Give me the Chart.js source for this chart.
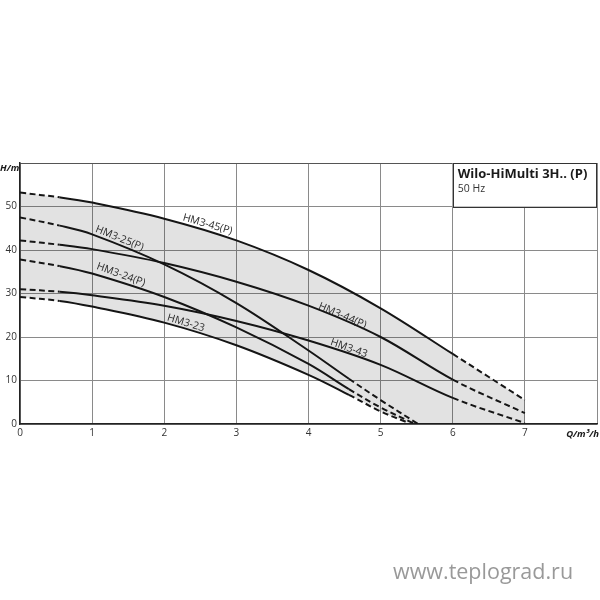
<!DOCTYPE html>
<html><head><meta charset="utf-8">
<script src="https://cdn.jsdelivr.net/npm/chart.js@4/dist/chart.umd.min.js"></script>
<style>
html,body{margin:0;padding:0;background:#fff;}
#wrap{position:relative;width:600px;height:600px;}
</style></head><body>
<div id="wrap"><canvas id="c" width="600" height="600"></canvas></div>
<script>
// ---- data (Q in m³/h, H in m) ----
const q45 = [0, 0.55, 1, 2, 3, 4, 5, 6, 7];
const h45 = [53.2, 52.1, 50.9, 47.2, 42.2, 35.4, 26.6, 16.1, 5.5];
const q44 = [0, 0.55, 1, 2, 3, 4, 5, 6, 7];
const h44 = [42.2, 41.2, 40.2, 37.0, 32.7, 27.2, 20.0, 10.2, 2.5];
const q43 = [0, 0.55, 1, 2, 3, 4, 5, 6, 7];
const h43 = [31.0, 30.4, 29.6, 27.2, 23.7, 19.2, 13.6, 6.0, 0.2];
const q25 = [0, 0.55, 1, 2, 3, 4, 4.56, 5.0, 5.52];
const h25 = [47.5, 45.6, 43.6, 36.7, 27.8, 16.9, 10.4, 5.5, 0.0];
const q24 = [0, 0.55, 1, 2, 3, 4, 4.56, 5.0, 5.45];
const h24 = [37.8, 36.3, 34.6, 29.2, 22.2, 13.8, 8.0, 3.8, 0.2];
const q23 = [0, 0.55, 1, 2, 3, 4, 4.56, 5.0, 5.38];
const h23 = [29.2, 28.3, 27.0, 23.3, 18.1, 11.3, 6.7, 2.9, 0.3];
const qAxisEnd = [5.52, 7];
const hAxisEnd = [0, 0];
const curveNames = ['HM3-45(P)', 'HM3-44(P)', 'HM3-43', 'HM3-25(P)', 'HM3-24(P)', 'HM3-23'];
const xTickLabels = ['0', '1', '2', '3', '4', '5', '6', '7', ''];
const yTickLabels = ['0', '10', '20', '30', '40', '50', ''];

const pts = (q, h) => q.map((x, i) => ({x: x, y: h[i]}));
const curves = [
  {name: curveNames[0], q: q45, h: h45, from: 0.55, to: 6},
  {name: curveNames[1], q: q44, h: h44, from: 0.55, to: 6},
  {name: curveNames[2], q: q43, h: h43, from: 0.55, to: 6},
  {name: curveNames[3], q: q25, h: h25, from: 0.55, to: 4.56},
  {name: curveNames[4], q: q24, h: h24, from: 0.55, to: 4.56},
  {name: curveNames[5], q: q23, h: h23, from: 0.55, to: 4.56}
];
const labelPos = [
  {t: curveNames[0], x: 2.6, y: 45.9, a: 16},
  {t: curveNames[1], x: 4.47, y: 24.9, a: 23},
  {t: curveNames[2], x: 4.56, y: 17.4, a: 19},
  {t: curveNames[3], x: 1.38, y: 42.7, a: 22},
  {t: curveNames[4], x: 1.4, y: 34.3, a: 20},
  {t: curveNames[5], x: 2.3, y: 23.2, a: 17}
];

const TENSION = 0.35;
const datasets = [
  {label: 'envTop', data: pts(q45, h45), borderWidth: 0, pointRadius: 0,
   fill: '+1', backgroundColor: 'rgba(0,0,0,0.115)', tension: TENSION},
  {label: 'envBottom', data: pts(q23.concat(qAxisEnd), h23.concat(hAxisEnd)), borderWidth: 0,
   pointRadius: 0, fill: false, tension: 0.2}
];
curves.forEach(c => {
  datasets.push({
    label: c.name, data: pts(c.q, c.h), borderColor: '#151515', borderWidth: 2,
    pointRadius: 0, fill: false, tension: TENSION,
    segment: {
      borderDash: ctx => (ctx.p0.parsed.x < c.from - 1e-6 || ctx.p1.parsed.x > c.to + 1e-6) ? [6, 3.5] : undefined
    }
  });
});

const FONT = '"Open Sans", "Noto Sans", sans-serif';
const overlay = {
  id: 'overlay',
  afterDatasetsDraw(chart) {
    const ctx = chart.ctx, xs = chart.scales.x, ys = chart.scales.y;
    ctx.save();
    // curve labels
    ctx.fillStyle = '#2a2a2a';
    ctx.font = '10.5px ' + FONT;
    ctx.textAlign = 'center';
    ctx.textBaseline = 'middle';
    labelPos.forEach(l => {
      ctx.save();
      ctx.translate(xs.getPixelForValue(l.x), ys.getPixelForValue(l.y));
      ctx.rotate(l.a * Math.PI / 180);
      ctx.fillText(l.t, 0, 0);
      ctx.restore();
    });
    // title box
    const bx0 = xs.getPixelForValue(6), bx1 = xs.getPixelForValue(8);
    const by0 = ys.getPixelForValue(60), by1 = ys.getPixelForValue(50);
    ctx.fillStyle = '#fff';
    ctx.fillRect(bx0, by0, bx1 - bx0, by1 - by0);
    ctx.strokeStyle = '#333';
    ctx.lineWidth = 1;
    ctx.strokeRect(Math.round(bx0) + 0.5, Math.round(by0) + 0.5, Math.round(bx1 - bx0) - 1, Math.round(by1 - by0));
    ctx.fillStyle = '#1a1a1a';
    ctx.textAlign = 'left';
    ctx.textBaseline = 'alphabetic';
    ctx.font = 'bold 13px ' + FONT;
    ctx.fillText('Wilo-HiMulti 3H.. (P)', bx0 + 5, by0 + 15);
    ctx.fillStyle = '#333';
    ctx.font = '10.5px ' + FONT;
    ctx.fillText('50 Hz', bx0 + 5, by0 + 29);
    // axis titles
    ctx.fillStyle = '#1a1a1a';
    ctx.font = 'italic bold 9.5px ' + FONT;
    ctx.textAlign = 'left';
    ctx.fillText('H/m', 0, by0 + 8);
    ctx.textAlign = 'right';
    ctx.fillText('Q/m³/h', 599, ys.getPixelForValue(0) + 13);
    // watermark
    ctx.fillStyle = '#999';
    ctx.font = '21.5px ' + FONT;
    ctx.textAlign = 'left';
    ctx.fillText('www.teplograd.ru', 393, 579);
    ctx.restore();
  }
};

new Chart(document.getElementById('c'), {
  type: 'scatter',
  data: {datasets: datasets},
  plugins: [overlay],
  options: {
    responsive: false,
    animation: false,
    showLine: true,
    layout: {padding: {top: 163, right: 1, left: 0, bottom: 0}},
    plugins: {legend: {display: false}, tooltip: {enabled: false}, filler: {drawTime: 'beforeDatasetsDraw'}},
    scales: {
      x: {
        type: 'linear', min: 0, max: 8,
        afterFit: s => { s.height = 176; },
        grid: {color: '#8a8a8a', lineWidth: 1, drawTicks: false},
        border: {color: '#222', width: 1.5},
        ticks: {stepSize: 1, padding: 3, color: '#333', font: {family: FONT, size: 10},
          maxRotation: 0, autoSkip: false,
          callback: (v, i) => xTickLabels[i] !== undefined ? xTickLabels[i] : ''}
      },
      y: {
        type: 'linear', min: 0, max: 60,
        afterFit: s => { s.width = 20; },
        grid: {color: ctx => ctx.tick && ctx.tick.value === 60 ? '#555' : '#8a8a8a', lineWidth: 1, drawTicks: false},
        border: {color: '#222', width: 1.5},
        ticks: {stepSize: 10, padding: 3, color: '#333', font: {family: FONT, size: 10},
          callback: (v, i) => yTickLabels[i] !== undefined ? yTickLabels[i] : ''}
      }
    }
  }
});
</script>
</body></html>
